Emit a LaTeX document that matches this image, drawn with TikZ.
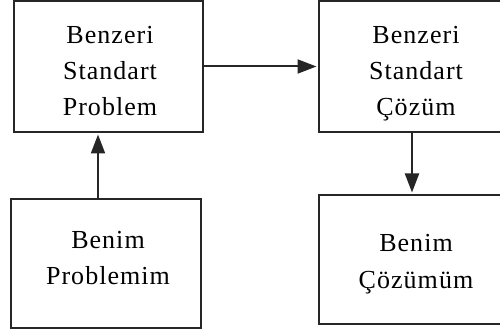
\documentclass[tikz,border=0pt]{standalone}
\usepackage{fontspec}
\setmainfont{Liberation Serif}[LetterSpace=4]
\usetikzlibrary{arrows.meta}
\begin{document}
\begin{tikzpicture}[x=1pt,y=-1pt,
  box/.style={draw=black!85, line width=2pt, rectangle, inner sep=0pt},
  txt/.style={align=center, inner sep=0pt, anchor=base,
    font=\fontsize{26}{36}\selectfont},
  flow/.style={draw=black!85, line width=2pt,
    -{Triangle[length=19pt,width=14pt]}, shorten >=1.5pt}]
  \useasboundingbox (0,0) rectangle (500,336);
  \clip (0,0) rectangle (500,336);
  \fill[white] (0,0) rectangle (500,336);
  % boxes
  \node[box, minimum width=189pt, minimum height=131pt] (bsp) at (108.5,66.5) {};
  \node[box, minimum width=190pt, minimum height=129pt] (bp) at (106,263.5) {};
  \node[box, minimum width=192pt, minimum height=131pt] (bsc) at (415,66.5) {};
  \node[box, minimum width=192pt, minimum height=129pt] (bc) at (415,259.5) {};
  % labels, anchored at the baseline of the last line
  \node[txt] (bsp-t) at (110,115.7) {Benzeri\\Standart\\Problem};
  \node[txt] (bp-t) at (108,285) {Benim\\Problemim};
  \node[txt] (bsc-t) at (416,115.7) {Benzeri\\Standart\\Çözüm};
  \node[txt] (bc-t) at (416,288) {Benim\\Çözümüm};
  % connectors
  \draw[flow] ([xshift=-8pt]bp.north) -- ([xshift=-8pt]bp.north |- bsp.south);
  \draw[flow] (bsp.east) -- (bsc.west);
  \draw[flow] ([xshift=-3pt]bsc.south) -- ([xshift=-3pt]bsc.south |- bc.north);
\end{tikzpicture}
\end{document}
